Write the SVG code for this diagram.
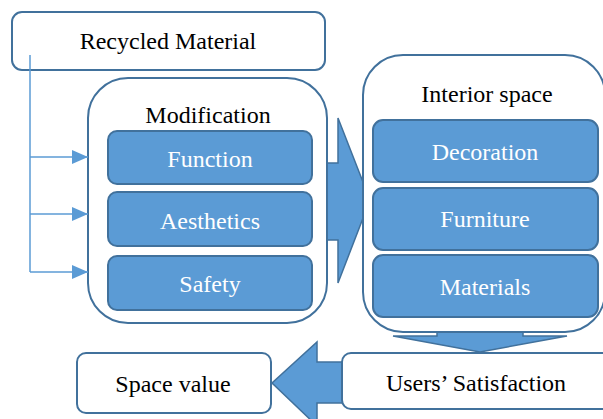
<svg xmlns="http://www.w3.org/2000/svg" width="603" height="419" viewBox="0 0 603 419">
<defs>
<marker id="ah" markerWidth="16" markerHeight="14" refX="16" refY="7" orient="auto" markerUnits="userSpaceOnUse">
<path d="M0,0 L16,7 L0,14 Z" fill="#5B9BD5"/>
</marker>
</defs>
<g id="big-arrow-right" fill="#5B9BD5" stroke="#41719C" stroke-width="1.5">
<path d="M320,163 L338,163 L338,118 L370,200 L338,283 L338,240 L320,240 Z"/>
</g>
<g id="recycled-material">
<rect x="12" y="12" width="313" height="58" rx="10" fill="#fff" stroke="#41719C" stroke-width="2"/>
<text x="168" y="49" text-anchor="middle" font-size="24" fill="#000" font-family="'Liberation Serif', serif">Recycled Material</text>
</g>
<g id="modification">
<rect x="88" y="78" width="239" height="245" rx="40" fill="#fff" stroke="#41719C" stroke-width="2"/>
<text x="208" y="123" text-anchor="middle" font-size="24" fill="#000" font-family="'Liberation Serif', serif">Modification</text>
</g>
<g id="function">
<rect x="108" y="131" width="204" height="53" rx="9" fill="#5B9BD5" stroke="#41719C" stroke-width="2"/>
<text x="210" y="167" text-anchor="middle" font-size="24" fill="#fff" font-family="'Liberation Serif', serif">Function</text>
</g>
<g id="aesthetics">
<rect x="108" y="192" width="204" height="54" rx="9" fill="#5B9BD5" stroke="#41719C" stroke-width="2"/>
<text x="210" y="229" text-anchor="middle" font-size="24" fill="#fff" font-family="'Liberation Serif', serif">Aesthetics</text>
</g>
<g id="safety">
<rect x="108" y="256" width="204" height="54" rx="9" fill="#5B9BD5" stroke="#41719C" stroke-width="2"/>
<text x="210" y="292" text-anchor="middle" font-size="24" fill="#fff" font-family="'Liberation Serif', serif">Safety</text>
</g>
<g id="big-arrow-down" fill="#5B9BD5" stroke="#41719C" stroke-width="1.5">
<path d="M437,318 L437,336 L393,336 L480,352 L567,336 L523,336 L523,318 Z"/>
</g>
<g id="interior-space">
<rect x="363" y="55" width="242" height="277" rx="40" fill="#fff" stroke="#41719C" stroke-width="2"/>
<text x="487" y="102" text-anchor="middle" font-size="24" fill="#000" font-family="'Liberation Serif', serif">Interior space</text>
</g>
<g id="decoration">
<rect x="373" y="120" width="225" height="62" rx="10" fill="#5B9BD5" stroke="#41719C" stroke-width="2"/>
<text x="485" y="160" text-anchor="middle" font-size="24" fill="#fff" font-family="'Liberation Serif', serif">Decoration</text>
</g>
<g id="furniture">
<rect x="373" y="188" width="225" height="62" rx="10" fill="#5B9BD5" stroke="#41719C" stroke-width="2"/>
<text x="485" y="227" text-anchor="middle" font-size="24" fill="#fff" font-family="'Liberation Serif', serif">Furniture</text>
</g>
<g id="materials">
<rect x="373" y="255" width="225" height="62" rx="10" fill="#5B9BD5" stroke="#41719C" stroke-width="2"/>
<text x="485" y="295" text-anchor="middle" font-size="24" fill="#fff" font-family="'Liberation Serif', serif">Materials</text>
</g>
<g id="big-arrow-left" fill="#5B9BD5" stroke="#41719C" stroke-width="1.5">
<path d="M350,362 L317,362 L317,342 L272,383 L317,426 L317,403 L350,403 Z"/>
</g>
<g id="users-satisfaction">
<rect x="342" y="353" width="270" height="56" rx="9" fill="#fff" stroke="#41719C" stroke-width="2"/>
<text x="476" y="391" text-anchor="middle" font-size="24" fill="#000" font-family="'Liberation Serif', serif">Users&#8217; Satisfaction</text>
</g>
<g id="space-value">
<rect x="77" y="353" width="194" height="60" rx="9" fill="#fff" stroke="#41719C" stroke-width="2"/>
<text x="173" y="392" text-anchor="middle" font-size="24" fill="#000" font-family="'Liberation Serif', serif">Space value</text>
</g>
<g id="connectors" fill="none" stroke="#5B9BD5" stroke-width="1.5">
<path d="M30,55 L30,272"/>
<path d="M30,157 L88,157" marker-end="url(#ah)"/>
<path d="M30,214 L88,214" marker-end="url(#ah)"/>
<path d="M30,272 L88,272" marker-end="url(#ah)"/>
</g>
</svg>
